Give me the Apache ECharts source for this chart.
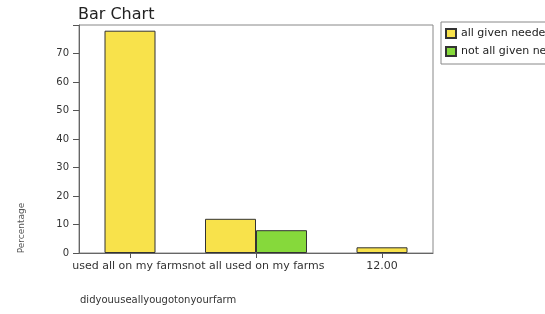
<!DOCTYPE html>
<html>
<head>
    <meta charset="utf-8">
    <title>Bar Chart</title>
    <script src="https://cdn.jsdelivr.net/npm/echarts@6/dist/echarts.min.js"></script>
    <style>
        html, body { margin: 0; padding: 0; background: #fff; }
    </style>
</head>
<body>
    <div id="main" style="width: 545px;height:314px;"></div>
    <script type="text/javascript">
        // data
        var categories = ['used all on my farms', 'not all used on my farms', '12.00'];
        var allGiven = [78, 12, 2];
        var notAllGiven = [null, 8, null];
        var seriesNames = ['all given needed', 'not all given needed'];
        var yTicks = [0, 10, 20, 30, 40, 50, 60, 70];

        // SPSS centres a lone bar on its tick, so split single / paired categories
        var lone = [], pairA = [], pairB = [];
        for (var i = 0; i < categories.length; i++) {
            if (notAllGiven[i] == null) {
                lone.push(allGiven[i]); pairA.push('-'); pairB.push('-');
            } else {
                lone.push('-'); pairA.push(allGiven[i]); pairB.push(notAllGiven[i]);
            }
        }

        var yellow = '#f8e24b';
        var green = '#86d93b';
        var font = 'DejaVu Sans';

        var myChart = echarts.init(document.getElementById('main'));
        myChart.setOption({
            animation: false,
            title: {
                text: 'Bar Chart',
                left: 73, top: 2,
                textStyle: { fontFamily: font, fontSize: 16, fontWeight: 'normal', color: '#222' }
            },
            legend: {
                orient: 'vertical',
                left: 441, top: 22,
                padding: [6, 6, 7, 4],
                itemGap: 7,
                itemWidth: 10, itemHeight: 9,
                borderColor: '#888', borderWidth: 1,
                data: seriesNames.map(function (n) { return { name: n, icon: 'rect' }; }),
                textStyle: { fontFamily: font, fontSize: 11, color: '#222' }
            },
            grid: [
                { left: 79, right: 112, top: 25, bottom: 61, show: true, borderColor: '#888', borderWidth: 1 },
                { left: 67, right: 100, top: 25, bottom: 61 }
            ],
            xAxis: [
                {
                    gridIndex: 0, type: 'category', data: categories,
                    axisLine: { lineStyle: { color: '#666' } },
                    axisTick: { show: false }, axisLabel: { show: false }
                },
                {
                    gridIndex: 1, type: 'category', data: categories,
                    axisLine: { show: false },
                    axisTick: { show: true, alignWithLabel: true, length: 5, lineStyle: { color: '#555' } },
                    axisLabel: { interval: 0, margin: 8, fontFamily: font, fontSize: 11, color: '#333' }
                },
                { gridIndex: 1, type: 'category', data: categories, show: false }
            ],
            yAxis: [
                {
                    gridIndex: 0, type: 'value', min: 0, max: 80, interval: 10,
                    splitLine: { show: false },
                    axisLine: { show: true, lineStyle: { color: '#666' } },
                    axisTick: { show: true, length: 6, lineStyle: { color: '#555' } },
                    axisLabel: {
                        margin: 10, fontFamily: font, fontSize: 10, color: '#333',
                        formatter: function (v) { return yTicks.indexOf(v) >= 0 ? String(v) : ''; }
                    }
                },
                { gridIndex: 1, type: 'value', min: 0, max: 80, show: false }
            ],
            graphic: [
                {
                    type: 'text', x: 22, y: 228, rotation: Math.PI / 2,
                    style: { text: 'Percentage', fill: '#555', font: '9px DejaVu Sans', textAlign: 'center', textVerticalAlign: 'middle' }
                },
                {
                    type: 'text', x: 80, y: 300,
                    style: { text: 'didyouuseallyougotonyourfarm', fill: '#333', font: '10px DejaVu Sans', textVerticalAlign: 'middle' }
                }
            ],
            series: [
                {
                    name: seriesNames[0], type: 'bar', xAxisIndex: 1, yAxisIndex: 1,
                    barWidth: 51, data: lone,
                    itemStyle: { color: yellow, borderColor: '#333', borderWidth: 1 }
                },
                {
                    name: seriesNames[0], type: 'bar', xAxisIndex: 2, yAxisIndex: 1,
                    barWidth: 51, barGap: 0, data: pairA,
                    itemStyle: { color: yellow, borderColor: '#333', borderWidth: 1 }
                },
                {
                    name: seriesNames[1], type: 'bar', xAxisIndex: 2, yAxisIndex: 1,
                    barWidth: 51, barGap: 0, data: pairB,
                    itemStyle: { color: green, borderColor: '#333', borderWidth: 1 }
                }
            ]
        });
    </script>
</body>
</html>
